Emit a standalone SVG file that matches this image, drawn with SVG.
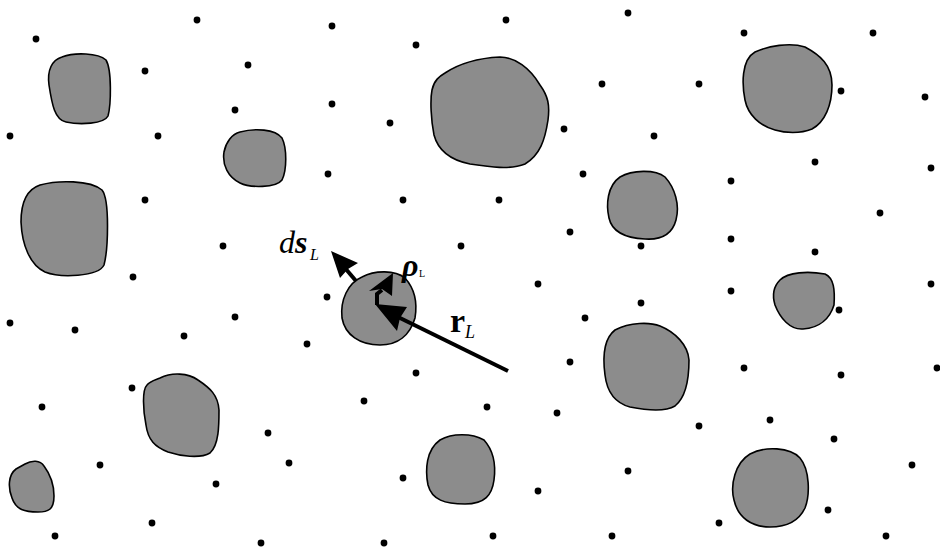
<svg xmlns="http://www.w3.org/2000/svg" width="940" height="550" viewBox="0 0 940 550">
<style>
.blob{fill:#8c8c8c;stroke:#000;stroke-width:1.6}
.dot{fill:#000}
.arr{stroke:#000;stroke-width:4;fill:none}
.head{fill:#000}
.t{font-family:"Liberation Serif","Times New Roman",serif;fill:#000}
</style>
<rect width="940" height="550" fill="#fff"/>
<g id="particles">
<path id="blobA" class="blob" d="M62,57 C75,52 98,53 106,60 C112,70 111,105 108,116 C104,124 80,125 66,122 C55,120 52,105 49,85 C47,70 52,60 62,57 Z"/>
<path id="blobB" class="blob" d="M240,132 C255,128 275,129 282,138 C287,148 287,170 282,180 C276,188 250,188 240,183 C228,177 222,165 224,152 C226,142 232,134 240,132 Z"/>
<path id="blobC" class="blob" d="M40,185 C58,180 90,180 102,190 C110,200 108,250 104,265 C98,277 60,278 45,272 C30,265 22,245 21,222 C21,200 28,189 40,185 Z"/>
<path id="blobD" class="blob" d="M160,378 C172,372 188,373 198,380 C210,388 218,395 219,410 C219,425 219,445 210,453 C200,459 180,456 168,452 C155,447 148,440 146,425 C143,410 142,390 147,385 C150,381 155,380 160,378 Z"/>
<path id="blobE" class="blob" d="M25,464 C32,460 40,460 44,466 C50,474 54,485 54,496 C54,510 48,512 38,512 C25,512 16,510 12,498 C8,488 8,475 16,469 Z"/>
<path id="blobF" class="blob" d="M445,73 C460,63 480,58 500,57 C515,57 530,68 540,85 C548,96 550,105 548,120 C545,140 540,155 525,164 C510,170 490,167 470,164 C450,160 438,150 434,135 C431,120 430,100 432,90 C434,80 440,76 445,73 Z"/>
<path id="blobG" class="blob" d="M620,177 C632,170 655,169 665,177 C675,188 680,205 676,220 C672,235 660,240 645,239 C625,238 612,232 609,218 C606,205 607,186 620,177 Z"/>
<path id="blobH" class="blob" d="M755,52 C768,46 790,42 805,47 C820,55 832,65 832,85 C832,105 825,122 812,129 C800,134 785,133 775,130 C760,126 748,115 745,100 C742,85 741,60 755,52 Z"/>
<path id="blobI" class="blob" d="M780,280 C788,272 808,271 825,274 C834,278 835,290 834,305 C830,318 820,328 803,329 C790,330 780,318 775,305 C772,295 774,286 780,280 Z"/>
<path id="blobJ" class="blob" d="M362,277 C375,270 395,270 405,278 C414,288 418,300 415,318 C410,335 398,345 380,345 C360,345 345,335 342,318 C340,300 348,283 362,277 Z"/>
<path id="blobK" class="blob" d="M440,440 C452,433 472,433 484,440 C493,450 496,465 494,480 C492,495 485,504 465,504 C445,504 432,500 428,485 C425,470 426,450 440,440 Z"/>
<path id="blobL" class="blob" d="M615,330 C630,322 650,322 660,326 C675,332 688,345 689,360 C689,380 685,398 675,406 C665,412 645,410 630,407 C615,403 607,392 605,375 C603,360 602,340 615,330 Z"/>
<path id="blobM" class="blob" d="M750,454 C765,446 790,447 800,458 C810,470 810,495 805,508 C798,523 785,527 770,527 C752,527 738,518 734,500 C730,485 735,463 750,454 Z"/>
</g>
<g id="points" class="dot">
<circle cx="36" cy="39" r="3.4"/><circle cx="197" cy="20" r="3.4"/><circle cx="332" cy="26" r="3.4"/><circle cx="416" cy="45" r="3.4"/><circle cx="506" cy="20" r="3.4"/><circle cx="628" cy="13" r="3.4"/><circle cx="744" cy="33" r="3.4"/><circle cx="873" cy="33" r="3.4"/>
<circle cx="145" cy="71" r="3.4"/><circle cx="248" cy="65" r="3.4"/><circle cx="602" cy="84" r="3.4"/><circle cx="699" cy="84" r="3.4"/><circle cx="841" cy="91" r="3.4"/><circle cx="925" cy="97" r="3.4"/>
<circle cx="235" cy="110" r="3.4"/><circle cx="332" cy="104" r="3.4"/><circle cx="390" cy="123" r="3.4"/><circle cx="564" cy="129" r="3.4"/><circle cx="654" cy="136" r="3.4"/><circle cx="10" cy="136" r="3.4"/><circle cx="158" cy="136" r="3.4"/>
<circle cx="328" cy="174" r="3.4"/><circle cx="583" cy="174" r="3.4"/><circle cx="731" cy="181" r="3.4"/><circle cx="815" cy="162" r="3.4"/><circle cx="931" cy="168" r="3.4"/>
<circle cx="145" cy="200" r="3.4"/><circle cx="403" cy="200" r="3.4"/><circle cx="499" cy="200" r="3.4"/><circle cx="880" cy="213" r="3.4"/>
<circle cx="223" cy="246" r="3.4"/><circle cx="461" cy="246" r="3.4"/><circle cx="570" cy="232" r="3.4"/><circle cx="641" cy="246" r="3.4"/><circle cx="731" cy="239" r="3.4"/>
<circle cx="133" cy="277" r="3.4"/><circle cx="538" cy="284" r="3.4"/><circle cx="815" cy="252" r="3.4"/>
<circle cx="731" cy="291" r="3.4"/><circle cx="931" cy="284" r="3.4"/><circle cx="641" cy="303" r="3.4"/><circle cx="839" cy="310" r="3.4"/>
<circle cx="10" cy="323" r="3.4"/><circle cx="75" cy="330" r="3.4"/><circle cx="184" cy="336" r="3.4"/><circle cx="235" cy="317" r="3.4"/><circle cx="327" cy="297" r="3.4"/><circle cx="307" cy="344" r="3.4"/><circle cx="585" cy="318" r="3.4"/>
<circle cx="570" cy="362" r="3.4"/><circle cx="416" cy="373" r="3.4"/><circle cx="744" cy="368" r="3.4"/><circle cx="841" cy="375" r="3.4"/><circle cx="937" cy="368" r="3.4"/>
<circle cx="132" cy="388" r="3.4"/><circle cx="42" cy="407" r="3.4"/><circle cx="364" cy="401" r="3.4"/><circle cx="487" cy="407" r="3.4"/><circle cx="557" cy="413" r="3.4"/><circle cx="699" cy="426" r="3.4"/><circle cx="770" cy="420" r="3.4"/><circle cx="834" cy="439" r="3.4"/>
<circle cx="268" cy="433" r="3.4"/><circle cx="289" cy="463" r="3.4"/><circle cx="100" cy="465" r="3.4"/><circle cx="216" cy="484" r="3.4"/><circle cx="403" cy="478" r="3.4"/><circle cx="538" cy="491" r="3.4"/><circle cx="628" cy="471" r="3.4"/><circle cx="912" cy="465" r="3.4"/>
<circle cx="152" cy="523" r="3.4"/><circle cx="55" cy="536" r="3.4"/><circle cx="261" cy="543" r="3.4"/><circle cx="384" cy="543" r="3.4"/><circle cx="493" cy="536" r="3.4"/><circle cx="612" cy="536" r="3.4"/><circle cx="719" cy="523" r="3.4"/><circle cx="828" cy="510" r="3.4"/><circle cx="886" cy="536" r="3.4"/>
</g>
<g id="vectors">
<line class="arr" x1="508" y1="371" x2="398" y2="317"/>
<polygon class="head" points="375,304 407,307 400,318 397,331"/>
<line class="arr" x1="356" y1="281" x2="345" y2="268"/>
<polygon class="head" points="331,251 358,263 348,269 340,278"/>
<polyline class="arr" points="377,305 377,294 382,290" stroke-width="3.5"/>
<polygon class="head" points="393,273 392,296 382,289 369,291"/>
</g>
<g id="labels" class="t">
<text x="279" y="253" font-size="32"><tspan font-style="italic">d</tspan><tspan font-style="italic" font-weight="bold">s</tspan><tspan font-style="italic" font-size="16" x="310" y="260">L</tspan></text>
<text x="402" y="276" font-size="32" font-style="italic" font-weight="bold">ρ<tspan font-style="normal" font-weight="normal" font-size="10" x="419" y="277">L</tspan></text>
<text x="450" y="332" font-size="34" font-weight="bold">r<tspan font-style="italic" font-weight="normal" font-size="18" x="465" y="338">L</tspan></text>
</g>
</svg>
